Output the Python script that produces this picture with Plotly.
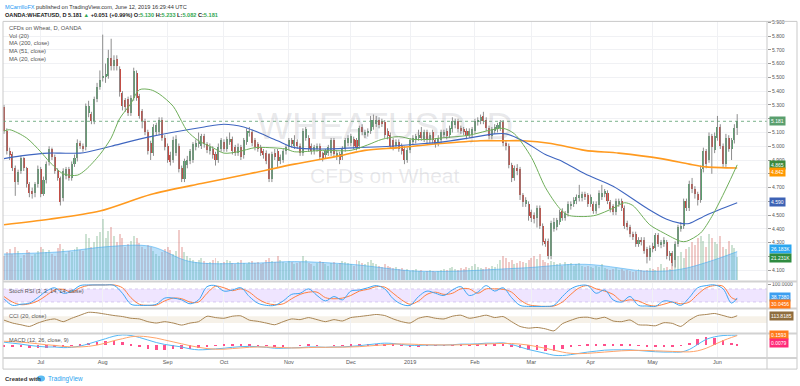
import pandas as pd
import plotly.graph_objects as go

# ---------------- data ----------------
opens = [
 5.28,5.11,4.96,4.94,4.84,4.74,4.82,4.91,4.84,4.72,
 4.67,4.66,4.72,4.83,4.65,4.75,4.88,4.98,4.92,4.82,
 4.77,4.62,4.78,4.83,4.77,4.87,4.91,5.02,5.00,4.99,
 5.24,5.23,5.18,5.34,5.43,5.49,5.50,5.51,5.64,5.58,
 5.63,5.56,5.38,5.33,5.34,5.24,5.35,5.53,5.36,5.25,
 5.18,5.10,5.02,4.95,5.10,5.10,5.19,5.06,5.00,4.93,
 4.90,4.95,5.00,4.84,4.76,4.86,4.89,4.90,4.99,5.01,
 5.00,5.07,5.01,4.96,4.98,4.94,4.90,4.98,5.03,4.98,
 5.03,5.05,4.99,4.95,4.99,4.93,5.03,5.09,5.10,5.04,
 5.01,4.99,4.96,4.95,4.94,4.76,4.95,4.96,4.89,4.90,
 4.96,4.99,5.04,5.00,5.03,5.00,4.95,5.06,5.06,5.00,
 4.96,4.98,5.00,4.95,4.93,4.95,4.95,5.04,4.92,4.94,
 4.92,4.98,5.02,5.02,5.05,5.04,5.00,5.14,5.08,5.09,
 5.11,5.14,5.16,5.19,5.18,5.17,5.11,5.08,5.04,5.00,
 5.03,5.00,4.98,4.90,4.97,5.03,5.04,5.06,5.10,5.05,
 5.10,5.04,5.10,5.04,5.02,5.04,5.08,5.11,5.08,5.12,
 5.15,5.18,5.13,5.12,5.11,5.08,5.08,5.11,5.17,5.18,
 5.22,5.19,5.13,5.07,5.11,5.12,5.13,5.17,5.02,5.00,
 4.86,4.77,4.84,4.83,4.64,4.58,4.58,4.52,4.50,4.48,
 4.55,4.42,4.31,4.31,4.20,4.40,4.41,4.45,4.53,4.48,
 4.51,4.56,4.58,4.60,4.62,4.62,4.65,4.64,4.58,4.58,
 4.53,4.57,4.63,4.65,4.66,4.59,4.56,4.52,4.58,4.60,
 4.55,4.44,4.41,4.36,4.36,4.29,4.32,4.32,4.25,4.19,
 4.27,4.26,4.35,4.28,4.29,4.30,4.20,4.22,4.17,4.29,
 4.40,4.42,4.60,4.55,4.72,4.69,4.65,4.61,4.83,4.96,
 4.90,5.07,4.97,5.06,5.14,5.00,4.87,5.06,4.98,5.04,
 5.130]
highs = [
 5.30,5.13,4.99,4.96,4.86,4.83,4.93,4.92,4.85,4.74,
 4.70,4.74,4.86,4.85,4.78,4.89,5.00,4.99,4.94,4.84,
 4.78,4.84,4.85,4.85,4.89,4.94,5.05,5.04,5.02,5.31,
 5.33,5.25,5.36,5.46,5.55,5.81,5.60,5.70,5.78,5.66,
 5.66,5.58,5.40,5.35,5.36,5.37,5.57,5.55,5.38,5.27,
 5.20,5.12,5.04,5.16,5.17,5.21,5.21,5.08,5.02,4.96,
 5.07,5.08,5.02,4.86,4.91,4.93,4.98,5.03,5.05,5.10,
 5.09,5.09,5.03,5.02,5.00,4.96,5.02,5.06,5.05,5.07,
 5.10,5.07,5.01,5.02,5.01,5.06,5.13,5.14,5.12,5.06,
 5.03,5.01,4.98,4.97,4.95,4.96,4.98,4.98,4.94,4.98,
 5.01,5.06,5.06,5.08,5.05,5.02,5.13,5.14,5.08,5.02,
 5.01,5.02,5.02,4.96,4.98,5.01,5.06,5.06,4.97,4.96,
 5.00,5.06,5.08,5.09,5.07,5.06,5.15,5.16,5.12,5.13,
 5.22,5.23,5.22,5.21,5.20,5.19,5.13,5.10,5.06,5.05,
 5.05,5.02,5.00,4.99,5.06,5.08,5.09,5.12,5.14,5.12,
 5.12,5.10,5.12,5.06,5.08,5.12,5.12,5.13,5.15,5.21,
 5.20,5.20,5.15,5.14,5.13,5.13,5.14,5.20,5.21,5.23,
 5.25,5.21,5.15,5.14,5.16,5.17,5.19,5.19,5.04,5.02,
 4.88,4.86,4.87,4.85,4.66,4.63,4.60,4.54,4.52,4.57,
 4.57,4.44,4.33,4.33,4.46,4.48,4.48,4.54,4.55,4.53,
 4.60,4.60,4.63,4.65,4.72,4.67,4.67,4.66,4.65,4.60,
 4.60,4.68,4.72,4.69,4.68,4.61,4.58,4.62,4.62,4.62,
 4.57,4.46,4.43,4.38,4.38,4.34,4.34,4.34,4.27,4.28,
 4.30,4.37,4.37,4.32,4.34,4.32,4.24,4.24,4.31,4.43,
 4.45,4.62,4.62,4.75,4.77,4.71,4.67,4.86,4.99,4.98,
 5.10,5.09,5.10,5.22,5.16,5.02,5.09,5.08,5.06,5.16,
 5.233]
lows = [
 5.09,4.94,4.90,4.82,4.64,4.72,4.80,4.82,4.70,4.63,
 4.62,4.63,4.70,4.63,4.64,4.73,4.86,4.90,4.80,4.75,
 4.57,4.60,4.76,4.75,4.75,4.85,4.89,4.98,4.96,4.97,
 5.21,5.16,5.16,5.32,5.41,5.47,5.46,5.49,5.55,5.55,
 5.55,5.36,5.26,5.25,5.22,5.22,5.33,5.33,5.20,5.13,
 5.08,4.94,4.90,4.93,5.08,5.08,5.04,4.97,4.88,4.86,
 4.88,4.93,4.81,4.74,4.74,4.84,4.87,4.88,4.97,4.99,
 4.98,4.99,4.95,4.94,4.91,4.86,4.88,4.96,4.96,4.96,
 5.01,4.94,4.93,4.93,4.90,4.91,5.01,5.07,5.00,4.97,
 4.96,4.93,4.91,4.87,4.74,4.74,4.90,4.85,4.87,4.88,
 4.94,4.97,4.99,4.98,4.98,4.93,4.93,5.04,4.96,4.94,
 4.94,4.96,4.90,4.89,4.91,4.93,4.93,4.92,4.90,4.87,
 4.90,4.96,5.00,5.00,4.98,4.97,4.98,5.08,5.06,5.07,
 5.09,5.12,5.14,5.13,5.14,5.06,5.05,4.98,4.97,4.98,
 4.96,4.94,4.87,4.88,4.95,5.01,5.02,5.04,5.04,5.03,
 5.02,5.02,5.02,4.99,5.00,5.02,5.06,5.05,5.06,5.10,
 5.13,5.10,5.09,5.08,5.05,5.06,5.06,5.09,5.15,5.16,
 5.16,5.11,5.05,5.05,5.09,5.10,5.11,5.00,4.97,4.84,
 4.74,4.75,4.79,4.61,4.56,4.56,4.46,4.45,4.44,4.41,
 4.40,4.28,4.27,4.18,4.18,4.38,4.39,4.43,4.46,4.46,
 4.49,4.54,4.56,4.58,4.60,4.60,4.61,4.56,4.56,4.51,
 4.51,4.55,4.61,4.63,4.58,4.52,4.50,4.50,4.56,4.53,
 4.40,4.39,4.34,4.32,4.27,4.27,4.28,4.22,4.15,4.17,
 4.23,4.24,4.27,4.26,4.27,4.18,4.17,4.13,4.12,4.27,
 4.38,4.40,4.53,4.53,4.66,4.62,4.57,4.59,4.81,4.84,
 4.88,4.80,4.95,5.04,4.98,4.85,4.85,4.96,4.90,5.02,
 5.082]
closes = [
 5.11,4.96,4.93,4.84,4.74,4.81,4.91,4.84,4.72,4.66,
 4.65,4.72,4.83,4.65,4.75,4.87,4.98,4.92,4.82,4.77,
 4.59,4.82,4.83,4.77,4.87,4.91,5.02,5.00,4.98,5.29,
 5.29,5.18,5.34,5.43,5.48,5.51,5.52,5.64,5.58,5.62,
 5.58,5.39,5.29,5.28,5.24,5.35,5.54,5.35,5.22,5.18,
 5.10,4.96,4.95,5.14,5.15,5.19,5.06,4.99,4.90,4.88,
 5.04,5.05,4.83,4.76,4.89,4.90,4.96,5.01,5.02,5.03,
 5.07,5.01,4.97,4.99,4.93,4.90,4.99,5.04,4.98,5.05,
 5.05,4.96,4.95,4.99,4.92,5.04,5.11,5.11,5.02,4.99,
 4.98,4.95,4.93,4.89,4.76,4.94,4.92,4.89,4.92,4.96,
 4.99,5.04,5.01,5.04,5.00,4.95,5.11,5.12,4.98,4.96,
 4.99,5.00,4.92,4.91,4.96,4.99,5.04,4.94,4.95,4.90,
 4.98,5.04,5.06,5.07,5.00,4.99,5.13,5.10,5.10,5.11,
 5.19,5.19,5.19,5.15,5.16,5.08,5.07,5.00,4.99,5.03,
 4.98,4.96,4.90,4.97,5.04,5.06,5.07,5.08,5.06,5.10,
 5.04,5.08,5.04,5.01,5.06,5.10,5.10,5.07,5.13,5.18,
 5.18,5.12,5.11,5.10,5.07,5.11,5.12,5.18,5.19,5.21,
 5.18,5.13,5.07,5.12,5.14,5.15,5.17,5.02,5.00,4.86,
 4.77,4.84,4.82,4.64,4.59,4.61,4.49,4.48,4.47,4.55,
 4.42,4.30,4.29,4.20,4.44,4.45,4.46,4.52,4.48,4.51,
 4.58,4.58,4.61,4.63,4.64,4.65,4.63,4.58,4.63,4.53,
 4.58,4.66,4.66,4.67,4.60,4.54,4.52,4.60,4.60,4.55,
 4.42,4.41,4.36,4.34,4.29,4.32,4.30,4.24,4.19,4.26,
 4.25,4.35,4.29,4.30,4.32,4.20,4.22,4.15,4.29,4.41,
 4.42,4.60,4.55,4.72,4.69,4.65,4.61,4.83,4.96,4.87,
 5.07,4.99,5.07,5.14,5.00,4.87,5.06,4.98,5.04,5.13,
 5.181]
volume_k = [
 22,25,28,24,30,26,20,23,27,25, 22,24,26,30,28,25,27,24,22,29,
 33,28,24,26,25,28,30,27,26,42, 38,30,35,40,44,56,38,45,48,40,
 35,42,38,30,33,36,40,38,34,30,
 28,32,30,26,24,22,25,28,30,27, 24,26,46,30,25,22,20,18,16,18,
 20,17,15,16,18,20,17,15,16,18, 17,15,14,16,18,15,14,16,17,15,
 16,14,15,18,20,17,16,22,18,16,
 15,17,16,14,15,16,22,18,15,14, 13,15,17,16,14,13,15,16,14,15,
 17,16,15,14,13,18,17,15,14,16, 18,15,14,13,12,14,13,12,11,12,
 10,11,9,10,8,9,10,8,9,7, 8,9,8,7,
 8,9,10,9,11,12,10,9,11,10, 12,11,13,14,12,11,10,12,11,13,
 12,14,18,22,20,16,18,14,15,17, 16,15,18,20,22,19,24,18,16,15,
 17,16,14,15,13,16,14,15,13,14, 15,13,12,
 13,12,11,13,12,14,11,10,9,10, 11,9,10,8,9,8,7,8,10,9,
 8,9,11,10,9,12,14,11,12,10, 16,18,22,25,20,28,30,35,32,38,
 40,36,30,42,38,35,33,40,30,28, 36,32,29,21.2]

# moving averages (bar index, value)
ma200_idx = [0,16,34,52,70,87,103,119,128,140,155,169,177,184,194,206,218,233,243,249,260]
ma200_val = [4.43,4.47,4.53,4.65,4.73,4.80,4.87,4.93,4.97,4.99,5.02,5.04,5.04,5.04,5.02,4.97,4.95,4.91,4.87,4.85,4.842]
ma51_idx = [0,6,16,20,27,30,38,52,71,78,85,89,97,103,113,125,137,149,155,165,174,178,184,192,198,206,216,228,235,240,243,249,260]
ma51_val = [4.91,4.93,4.95,4.95,4.95,4.96,5.00,5.07,5.14,5.16,5.14,5.11,5.04,4.99,4.98,4.99,5.00,5.02,5.03,5.06,5.09,5.09,5.04,4.94,4.89,4.80,4.71,4.55,4.47,4.44,4.44,4.50,4.59]
ma20_idx = [0,2,8,13,16,21,26,29,34,38,41,45,48,52,55,60,63,65,69,74,78,83,89,94,100,103,113,123,129,134,140,145,151,155,165,171,177,181,187,192,197,200,206,210,216,220,223,229,234,240,242,247,251,256,260]
ma20_val = [5.11,5.12,5.06,4.96,4.89,4.80,4.79,4.83,4.94,5.06,5.20,5.31,5.41,5.41,5.38,5.29,5.18,5.11,5.04,4.99,4.95,4.96,4.99,4.99,4.98,4.96,4.97,4.97,5.01,5.05,5.07,5.05,5.05,5.06,5.08,5.11,5.13,5.09,4.92,4.70,4.55,4.50,4.49,4.50,4.55,4.59,4.57,4.43,4.37,4.31,4.31,4.37,4.49,4.69,4.865]
volma_idx = [0,20,38,52,66,87,103,123,148,183,206,229,240,250,260]
volma_val = [24,26,31,31,17,15.5,17,14.5,8,11,14.5,8,10,17,26.183]

# lower indicators, sampled every 3 bars (last point = last bar)
ind_idx = list(range(0, 259, 3)) + [260]
stoch_k = [35,5,10,15,40,70,85,60,70,95, 98,98,98,96,60,10,5,5,10,38,
           38,30,12,30,90,95,70,75,85,45, 15,5,5,25,55,60,80,50,25,45,
           30,70,75,85,95,80,35,10,5,45, 70,60,50,75,90,50,65,95,70,85,
           40,5,0,0,0,5,45,80,95,95, 60,75,30,20,45,5,2,0,25,20,
           5,40,85,95,98,80,15,38.738]
stoch_d = [45,20,8,12,25,50,75,78,65,85, 96,98,98,98,85,40,10,5,6,25,
           38,35,20,20,60,92,85,72,80,65, 35,15,8,12,35,55,65,65,40,35,
           38,50,70,78,90,88,60,30,10,25, 55,65,55,60,80,80,60,80,80,78,
           65,30,8,2,0,2,20,55,85,95, 80,70,55,25,30,25,8,2,10,20,
           12,20,55,85,95,92,40,30.0456]
cci = [-15,-100,-150,-200,-100,-20,20,-60,40,130, 215,200,160,120,90,40,20,-60,-100,-60,
       -100,-160,-100,-60,100,60,40,100,110,-15, -50,-100,-150,-60,20,0,60,0,-60,0,
       -40,60,90,120,150,120,20,-60,-100,40, 90,40,20,100,130,40,80,130,60,90,
       -60,-200,-250,-230,-270,-330,-120,-20,60,70, 20,70,-40,-60,-10,-150,-160,-180,-90,-110,
       -200,-20,120,150,180,120,60,113.8185]
macd = [0.055,0.04,0.025,0.005,-0.01,-0.02,-0.02,-0.03,-0.025,-0.005,
        0.03,0.07,0.11,0.15,0.17,0.16,0.13,0.09,0.05,0.02,
        0.00,-0.02,-0.05,-0.065,-0.06,-0.05,-0.04,-0.025,-0.015,-0.01,
        -0.015,-0.025,-0.04,-0.04,-0.035,-0.03,-0.02,-0.02,-0.025,-0.02,
        -0.02,-0.01,0.00,0.015,0.03,0.04,0.035,0.02,0.005,0.005,
        0.01,0.01,0.01,0.015,0.025,0.025,0.03,0.04,0.04,0.045,
        0.02,-0.02,-0.06,-0.09,-0.12,-0.15,-0.155,-0.14,-0.12,-0.10,
        -0.085,-0.07,-0.065,-0.065,-0.065,-0.075,-0.085,-0.095,-0.10,-0.10,
        -0.10,-0.06,0.02,0.10,0.14,0.16,0.165,0.1672]
signal = [0.07,0.065,0.055,0.045,0.03,0.015,0.005,-0.01,-0.02,-0.02,
          -0.01,0.01,0.04,0.08,0.11,0.14,0.15,0.14,0.12,0.09,
          0.06,0.03,0.00,-0.025,-0.045,-0.055,-0.055,-0.045,-0.035,-0.025,
          -0.02,-0.02,-0.025,-0.03,-0.035,-0.035,-0.03,-0.025,-0.025,-0.023,
          -0.022,-0.02,-0.015,-0.005,0.005,0.015,0.025,0.028,0.025,0.02,
          0.015,0.013,0.012,0.012,0.015,0.018,0.022,0.027,0.032,0.036,
          0.035,0.025,0.01,-0.015,-0.04,-0.07,-0.10,-0.12,-0.125,-0.12,
          -0.11,-0.10,-0.09,-0.08,-0.075,-0.073,-0.075,-0.08,-0.085,-0.09,
          -0.095,-0.097,-0.08,-0.04,0.02,0.08,0.13,0.1593]

month_labels = ["Jul", "Aug", "Sep", "Oct", "Nov", "Dec", "2019", "Feb", "Mar", "Apr", "May", "Jun"]
price_ticks = [4.1, 4.2, 4.3, 4.4, 4.5, 4.6, 4.7, 4.8, 4.9, 5.0, 5.1, 5.2, 5.3, 5.4, 5.5, 5.6, 5.7, 5.8, 5.9]
hidden_ticks = [4.2, 4.6, 4.8, 5.2]   # covered by value boxes in the reference
last_close = 5.181

# ---------------- helpers ----------------
W, H = 800, 386
def PY(p):
    return 1 - p / H
def PX(p):
    return p / W

n = len(closes)
idx = list(range(n))
dates = pd.bdate_range(end="2019-06-12", periods=n)
month_pos = [i for i in range(1, n) if dates[i].month != dates[i - 1].month]

UP, DN = "#5a9f6e", "#c9463d"
is_up = [c >= o for o, c in zip(opens, closes)]
body_base = [min(o, c) for o, c in zip(opens, closes)]
body_h = [max(abs(c - o), 0.005) for o, c in zip(opens, closes)]
body_col = [UP if u else DN for u in is_up]
vol_col = ["rgba(90,159,110,0.30)" if u else "rgba(201,70,61,0.28)" for u in is_up]

wx, wy = [], []
for i, h, l in zip(idx, highs, lows):
    wx += [i, i, None]
    wy += [l, h, None]

hist = [m - s for m, s in zip(macd, signal)]
price_text = ["" if any(abs(t - h) < 1e-9 for h in hidden_ticks) else "%.3f" % t for t in price_ticks]

fig = go.Figure()
fig.add_trace(go.Bar(x=idx, y=volume_k, marker=dict(color=vol_col, line=dict(width=0)),
                     width=0.7, xaxis="x", yaxis="y", hoverinfo="skip"))
fig.add_trace(go.Scatter(x=volma_idx, y=volma_val, mode="lines", line=dict(color="rgba(66,170,240,0.55)", width=1, shape="spline"),
                         fill="tozeroy", fillcolor="rgba(90,180,240,0.42)", xaxis="x", yaxis="y", hoverinfo="skip"))
fig.add_trace(go.Scatter(x=wx, y=wy, mode="lines", line=dict(color="#8d8d8d", width=1), xaxis="x", yaxis="y2", hoverinfo="skip"))
fig.add_trace(go.Bar(x=idx, y=body_h, base=body_base, width=0.72, marker=dict(color=body_col, line=dict(width=0)),
                     xaxis="x", yaxis="y2", hoverinfo="skip"))
fig.add_trace(go.Scatter(x=ma200_idx, y=ma200_val, mode="lines", line=dict(color="#ff9a1f", width=1.6, shape="spline", smoothing=0.8),
                         xaxis="x", yaxis="y2"))
fig.add_trace(go.Scatter(x=ma51_idx, y=ma51_val, mode="lines", line=dict(color="#3f66c0", width=1.1, shape="spline", smoothing=0.8),
                         xaxis="x", yaxis="y2"))
fig.add_trace(go.Scatter(x=ma20_idx, y=ma20_val, mode="lines", line=dict(color="#6fae5a", width=1.0, shape="spline", smoothing=0.8),
                         xaxis="x", yaxis="y2"))
fig.add_trace(go.Scatter(x=ind_idx, y=stoch_d, mode="lines", line=dict(color="#ff7f3f", width=1, shape="spline"), xaxis="x2", yaxis="y3"))
fig.add_trace(go.Scatter(x=ind_idx, y=stoch_k, mode="lines", line=dict(color="#3da5f4", width=1, shape="spline"), xaxis="x2", yaxis="y3"))
fig.add_trace(go.Scatter(x=ind_idx, y=cci, mode="lines", line=dict(color="#a88554", width=1, shape="spline", smoothing=0.6), xaxis="x3", yaxis="y4"))
fig.add_trace(go.Bar(x=ind_idx, y=hist, width=0.9, marker=dict(color="#ff4f8b", line=dict(width=0)), xaxis="x4", yaxis="y5"))
fig.add_trace(go.Scatter(x=ind_idx, y=macd, mode="lines", line=dict(color="#55b8f5", width=1, shape="spline"), xaxis="x4", yaxis="y5"))
fig.add_trace(go.Scatter(x=ind_idx, y=signal, mode="lines", line=dict(color="#ffa46b", width=1, shape="spline"), xaxis="x4", yaxis="y5"))

XL, XR = 3, 767
x_rng = [(XL - 4) / 2.82, (XR - 4) / 2.82]
GRID = "#f0f1f4"
xbase = dict(domain=[PX(XL), PX(XR)], range=x_rng, tickvals=month_pos, ticktext=month_labels,
             showgrid=True, gridcolor=GRID, gridwidth=1, zeroline=False, showline=False, ticks="",
             showticklabels=False, fixedrange=True)

main_dom = [PY(279.5), PY(19.5)]
fig.update_layout(
    width=W, height=H, margin=dict(l=0, r=0, t=0, b=0),
    paper_bgcolor="white", plot_bgcolor="white", showlegend=False,
    barmode="overlay", bargap=0,
    font=dict(family="Liberation Sans", size=6, color="#4a4a4a"),
    xaxis=dict(xbase, anchor="y"),
    xaxis2=dict(xbase, anchor="y3", matches="x"),
    xaxis3=dict(xbase, anchor="y4", matches="x"),
    xaxis4=dict(xbase, anchor="y5", matches="x", showticklabels=True,
                tickfont=dict(size=5.5, color="#555")),
    yaxis=dict(domain=main_dom, range=[0, 238], visible=False, fixedrange=True),
    yaxis2=dict(overlaying="y", anchor="x", side="right", range=[4.029, 5.906],
                tickvals=price_ticks, ticktext=price_text,
                tickfont=dict(size=5, color="#555"), ticks="outside", ticklen=3, tickcolor="#9a9a9a",
                showgrid=True, gridcolor=GRID, zeroline=False, showline=False),
    yaxis3=dict(domain=[PY(307), PY(282)], anchor="x2", side="right", range=[-4.5, 109],
                tickvals=[100], ticktext=["100.0000"], tickfont=dict(size=5, color="#555"),
                ticks="outside", ticklen=3, tickcolor="#9a9a9a", showgrid=False, zeroline=False),
    yaxis4=dict(domain=[PY(332.5), PY(309)], anchor="x3", side="right", range=[-386, 300],
                showticklabels=False, showgrid=False, zeroline=False),
    yaxis5=dict(domain=[PY(357), PY(334)], anchor="x4", side="right", range=[-0.18, 0.18],
                showticklabels=False, showgrid=False, zeroline=False),
)

shapes = []
shapes.append(dict(type="rect", xref="x2 domain", yref="y3", x0=0, x1=1, y0=20, y1=80,
                   fillcolor="rgba(160,100,255,0.17)", line=dict(width=0), layer="below"))
for v in (20, 80):
    shapes.append(dict(type="line", xref="x2 domain", yref="y3", x0=0, x1=1, y0=v, y1=v,
                       line=dict(color="rgba(140,110,200,0.5)", width=0.6, dash="dot"), layer="below"))
shapes.append(dict(type="rect", xref="x3 domain", yref="y4", x0=0, x1=1, y0=-100, y1=100,
                   fillcolor="rgba(205,175,130,0.18)", line=dict(width=0), layer="below"))
shapes.append(dict(type="line", xref="x domain", yref="y2", x0=0, x1=1, y0=last_close, y1=last_close,
                   line=dict(color="#5a9f6e", width=0.8, dash="dot")))
FR = "#c9c9c9"
shapes.append(dict(type="rect", xref="paper", yref="paper", x0=PX(3), x1=PX(797), y0=PY(369), y1=PY(19.5),
                   line=dict(color=FR, width=1)))
shapes.append(dict(type="line", xref="paper", yref="paper", x0=PX(767), x1=PX(767), y0=PY(369), y1=PY(19.5),
                   line=dict(color=FR, width=1)))
for yy in (281, 308, 333.3, 357.8):
    shapes.append(dict(type="line", xref="paper", yref="paper", x0=PX(3), x1=PX(797), y0=PY(yy), y1=PY(yy),
                       line=dict(color="#d2d2d2", width=2)))
shapes.append(dict(type="circle", xref="paper", yref="paper", x0=PX(37), x1=PX(45), y0=PY(381.5), y1=PY(375.5),
                   fillcolor="#5bbcf2", line=dict(width=0)))
fig.update_layout(shapes=shapes)

ann = []
FONT = "Liberation Sans"
ann.append(dict(xref="paper", yref="paper", x=PX(3), y=PY(5), xanchor="left", yanchor="middle", showarrow=False,
                text="<span style='color:#2196f3'>MCarrilloFX</span> published on TradingView.com, June 12, 2019 16:29:44 UTC",
                font=dict(size=5.6, color="#333", family=FONT)))
G = "#33a852"
ann.append(dict(xref="paper", yref="paper", x=PX(3), y=PY(13.5), xanchor="left", yanchor="middle", showarrow=False,
                text=("<b>OANDA:WHEATUSD, D 5.181 <span style='color:%s'>▲</span> +0.051 (+0.99%%) "
                      "O:<span style='color:%s'>5.130</span> H:<span style='color:%s'>5.233</span> "
                      "L:<span style='color:%s'>5.082</span> C:<span style='color:%s'>5.181</span></b>") % (G, G, G, G, G),
                font=dict(size=5.6, color="#222", family=FONT)))
for k, t in enumerate(["CFDs on Wheat, D, OANDA", "Vol (20)", "MA (200, close)", "MA (51, close)", "MA (20, close)"]):
    ann.append(dict(xref="paper", yref="paper", x=PX(6.5), y=PY(26 + k * 7.7), xanchor="left", yanchor="middle",
                    showarrow=False, text=t, font=dict(size=5.8, color="#555", family=FONT)))
ann.append(dict(xref="paper", yref="paper", x=PX(385), y=PY(125), xanchor="center", yanchor="middle", showarrow=False,
                text="WHEATUSD, D", font=dict(size=37, color="rgba(120,120,130,0.17)", family=FONT)))
ann.append(dict(xref="paper", yref="paper", x=PX(385), y=PY(174), xanchor="center", yanchor="middle", showarrow=False,
                text="CFDs on Wheat", font=dict(size=21, color="rgba(120,120,130,0.17)", family=FONT)))
ann.append(dict(xref="paper", yref="paper", x=PX(6.5), y=PY(290.5), xanchor="left", yanchor="middle", showarrow=False,
                text="Stoch RSI (3, 3, 14, 14, close)", font=dict(size=5.6, color="#555", family=FONT)))
ann.append(dict(xref="paper", yref="paper", x=PX(6.5), y=PY(315.5), xanchor="left", yanchor="middle", showarrow=False,
                text="CCI (20, close)", font=dict(size=5.6, color="#555", family=FONT)))
ann.append(dict(xref="paper", yref="paper", x=PX(6.5), y=PY(340), xanchor="left", yanchor="middle", showarrow=False,
                text="MACD (12, 26, close, 9)", font=dict(size=5.6, color="#555", family=FONT)))
boxes = [("5.181", 120, "#5a9f6e"), ("4.865", 163.5, "#3b8a3e"), ("4.842", 170.5, "#ff9800"),
         ("4.590", 201, "#3d62b5"), ("26.183K", 248.5, "#2aa6ef"), ("21.231K", 257, "#2e8b40"),
         ("38.7380", 297, "#3c9ef0"), ("30.0456", 304, "#ff7a1a"), ("113.8185", 316, "#8f6d3e"),
         ("0.1593", 334.5, "#ff7a1a"), ("0.0079", 343, "#ff2a78")]
for t, yy, c in boxes:
    ann.append(dict(xref="paper", yref="paper", x=PX(768.5), y=PY(yy), xanchor="left", yanchor="middle",
                    showarrow=False, text=t, bgcolor=c, borderpad=1,
                    font=dict(size=5, color="white", family=FONT)))
ann.append(dict(xref="paper", yref="paper", x=PX(3), y=PY(378.5), xanchor="left", yanchor="middle", showarrow=False,
                text="<b>Created with</b>", font=dict(size=6, color="#333", family=FONT)))
ann.append(dict(xref="paper", yref="paper", x=PX(46), y=PY(378.5), xanchor="left", yanchor="middle", showarrow=False,
                text="TradingView", font=dict(size=6.3, color="#2aa3ef", family=FONT)))
fig.update_layout(annotations=ann)

fig.write_html("out.html", config={"displayModeBar": False},
               post_script="document.body.style.margin='0';document.body.style.overflow='hidden';")
